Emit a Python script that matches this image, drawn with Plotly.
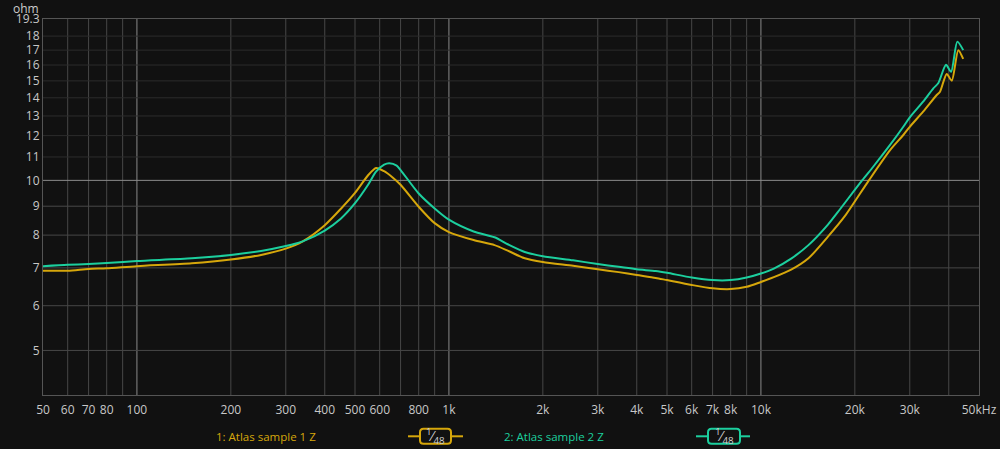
import math
import plotly.graph_objects as go

# ---- data ----
freq_1 = [50, 60, 70, 80, 100, 150, 200, 250, 300, 340, 400, 450, 500, 550, 584,
          620, 660, 700, 800, 900, 1000, 1200, 1400, 1550, 1750, 2000, 2500, 3000,
          3500, 4000, 4600, 5000, 6000, 7000, 8000, 9000, 10000, 11000, 12500, 14200,
          16400, 18600, 22100, 25900, 28600, 30000, 33100, 36600, 37500, 39400, 40900,
          42900, 44500]
z_sample1 = [6.92, 6.92, 6.97, 6.99, 7.05, 7.13, 7.24, 7.38, 7.57, 7.80, 8.33, 8.90,
             9.50, 10.20, 10.52, 10.38, 10.12, 9.82, 8.98, 8.40, 8.10, 7.84, 7.68,
             7.50, 7.28, 7.17, 7.06, 6.96, 6.88, 6.80, 6.72, 6.66, 6.53, 6.44, 6.42,
             6.48, 6.61, 6.74, 6.95, 7.28, 7.95, 8.65, 9.97, 11.30, 12.03, 12.44,
             13.23, 14.16, 14.35, 15.43, 15.01, 17.00, 16.40]

freq_2 = [50, 60, 70, 80, 100, 150, 200, 250, 300, 340, 400, 450, 500, 550, 584,
          620, 644, 680, 700, 800, 900, 1000, 1200, 1400, 1550, 1750, 2000, 2500, 3000,
          3500, 4000, 4600, 5000, 6000, 7000, 8000, 9000, 10000, 11000, 12500, 14200,
          16400, 17900, 21100, 22900, 25900, 28600, 30000, 33100, 35700, 37000, 39200,
          40700, 42600, 44500]
z_sample2 = [7.05, 7.09, 7.11, 7.14, 7.20, 7.28, 7.38, 7.50, 7.65, 7.80, 8.15, 8.55,
             9.11, 9.81, 10.36, 10.66, 10.72, 10.62, 10.43, 9.48, 8.92, 8.52, 8.12,
             7.93, 7.70, 7.47, 7.34, 7.22, 7.11, 7.03, 6.96, 6.91, 6.86, 6.73, 6.66,
             6.66, 6.73, 6.84, 6.98, 7.27, 7.68, 8.35, 8.88, 10.00, 10.57, 11.54,
             12.44, 12.93, 13.78, 14.55, 14.85, 16.01, 15.57, 17.60, 17.00]

series_names = ["1: Atlas sample 1 Z", "2: Atlas sample 2 Z"]
series_colors = ["#d6a70b", "#1ccf9e"]

x_tickvals = [50, 60, 70, 80, 100, 200, 300, 400, 500, 600, 800, 1000, 2000, 3000,
              4000, 5000, 6000, 7000, 8000, 10000, 20000, 30000, 50000]
x_ticktext = ["50", "60", "70", "80", "100", "200", "300", "400", "500", "600", "800",
              "1k", "2k", "3k", "4k", "5k", "6k", "7k", "8k", "10k", "20k", "30k", "50kHz"]
x_minor_grid = [60, 70, 80, 90, 200, 300, 400, 500, 600, 700, 800, 900,
                2000, 3000, 4000, 5000, 6000, 7000, 8000, 9000, 20000, 30000, 40000]
x_major_grid = [100, 1000, 10000]

y_tickvals = [5, 6, 7, 8, 9, 10, 11, 12, 13, 14, 15, 16, 17, 18, 19.3]
y_ticktext = ["5", "6", "7", "8", "9", "10", "11", "12", "13", "14", "15", "16", "17", "18", "19.3"]
y_mid_grid = [5, 6, 7, 8, 9]
y_dim_grid = [11, 12, 13, 14, 15, 16, 17, 18]
y_major_grid = [10]

x_range = [50, 50000]
y_range = [4.17, 19.3]

# ---- figure ----
W, H = 1000, 449
ML, MR, MT, MB = 43, 21, 19, 54
PW, PH = W - ML - MR, H - MT - MB

def px(x):
    return (x - ML) / PW

def py(y):
    return (H - MB - y) / PH

fig = go.Figure()
for name, f, z, col in zip(series_names, [freq_1, freq_2], [z_sample1, z_sample2], series_colors):
    fig.add_trace(go.Scatter(x=f, y=z, mode="lines", name=name,
                             line=dict(color=col, width=2, shape="spline", smoothing=0.7),
                             showlegend=False, hoverinfo="skip"))

shapes = []
for v in x_minor_grid:
    shapes.append(dict(type="line", xref="x", yref="paper", x0=v, x1=v, y0=0, y1=1,
                       line=dict(color="#474747", width=1), layer="below"))
for v in x_major_grid:
    shapes.append(dict(type="line", xref="x", yref="paper", x0=v, x1=v, y0=0, y1=1,
                       line=dict(color="#8a8a8a", width=1), layer="below"))
for v in y_dim_grid:
    shapes.append(dict(type="line", xref="paper", yref="y", x0=0, x1=1, y0=v, y1=v,
                       line=dict(color="#2c2c2c", width=1), layer="below"))
for v in y_mid_grid:
    shapes.append(dict(type="line", xref="paper", yref="y", x0=0, x1=1, y0=v, y1=v,
                       line=dict(color="#474747", width=1), layer="below"))
for v in y_major_grid:
    shapes.append(dict(type="line", xref="paper", yref="y", x0=0, x1=1, y0=v, y1=v,
                       line=dict(color="#8a8a8a", width=1), layer="below"))

# ---- custom legend ----
annotations = []
legend_items = [
    dict(text_x=214, line_x0=408, line_x1=463, box_x0=420, box_x1=451),
    dict(text_x=502, line_x0=696, line_x1=750, box_x0=708, box_x1=740),
]
ly = 436.3
for item, name, col in zip(legend_items, series_names, series_colors):
    annotations.append(dict(xref="paper", yref="paper", x=px(item["text_x"]), y=py(ly),
                            xanchor="left", yanchor="middle", showarrow=False,
                            text=name, font=dict(color=col, size=11.5, family="Open Sans")))
    shapes.append(dict(type="line", xref="paper", yref="paper",
                       x0=px(item["line_x0"]), x1=px(item["box_x0"]), y0=py(ly), y1=py(ly),
                       line=dict(color=col, width=2)))
    shapes.append(dict(type="line", xref="paper", yref="paper",
                       x0=px(item["box_x1"]), x1=px(item["line_x1"]), y0=py(ly), y1=py(ly),
                       line=dict(color=col, width=2)))
    x0, x1, y0, y1, r = item["box_x0"], item["box_x1"], ly - 7.5, ly + 7.5, 3.5
    pts = (f"M {px(x0 + r)},{py(y0)} L {px(x1 - r)},{py(y0)} "
           f"Q {px(x1)},{py(y0)} {px(x1)},{py(y0 + r)} L {px(x1)},{py(y1 - r)} "
           f"Q {px(x1)},{py(y1)} {px(x1 - r)},{py(y1)} L {px(x0 + r)},{py(y1)} "
           f"Q {px(x0)},{py(y1)} {px(x0)},{py(y1 - r)} L {px(x0)},{py(y0 + r)} "
           f"Q {px(x0)},{py(y0)} {px(x0 + r)},{py(y0)} Z")
    shapes.append(dict(type="path", xref="paper", yref="paper", path=pts,
                       line=dict(color=col, width=2), fillcolor="#111111"))
    annotations.append(dict(xref="paper", yref="paper", x=px((x0 + x1) / 2), y=py(ly),
                            xanchor="center", yanchor="middle", showarrow=False,
                            text="<sup>1</sup>⁄<sub>48</sub>",
                            font=dict(color="#d0d0d0", size=14, family="Open Sans")))

annotations.append(dict(xref="paper", yref="paper", x=px(41), y=py(9), xanchor="right",
                        yanchor="middle", showarrow=False, text="ohm",
                        font=dict(color="#cccccc", size=12, family="Open Sans")))

fig.update_layout(
    width=W, height=H,
    margin=dict(l=ML, r=MR, t=MT, b=MB, autoexpand=False),
    paper_bgcolor="#111111", plot_bgcolor="#111111",
    font=dict(family="Open Sans", color="#c8c8c8", size=12),
    shapes=shapes, annotations=annotations,
    showlegend=False,
)
fig.update_xaxes(type="log", range=[math.log10(x_range[0]), math.log10(x_range[1])],
                 tickvals=x_tickvals, ticktext=x_ticktext, showgrid=False, zeroline=False,
                 showline=True, linecolor="#555555", linewidth=1, mirror=True,
                 ticks="outside", ticklen=4, tickcolor="rgba(0,0,0,0)", automargin=False,
                 tickfont=dict(size=12, color="#c8c8c8"))
fig.update_yaxes(type="log", range=[math.log10(y_range[0]), math.log10(y_range[1])],
                 tickvals=y_tickvals, ticktext=y_ticktext, showgrid=False, zeroline=False,
                 showline=True, linecolor="#555555", linewidth=1, mirror=True,
                 ticks="", automargin=False, tickfont=dict(size=12, color="#c8c8c8"))

fig.write_html("out.html", config={"displayModeBar": False},
               post_script="document.body.style.margin='0';document.body.style.background='#111111';")
